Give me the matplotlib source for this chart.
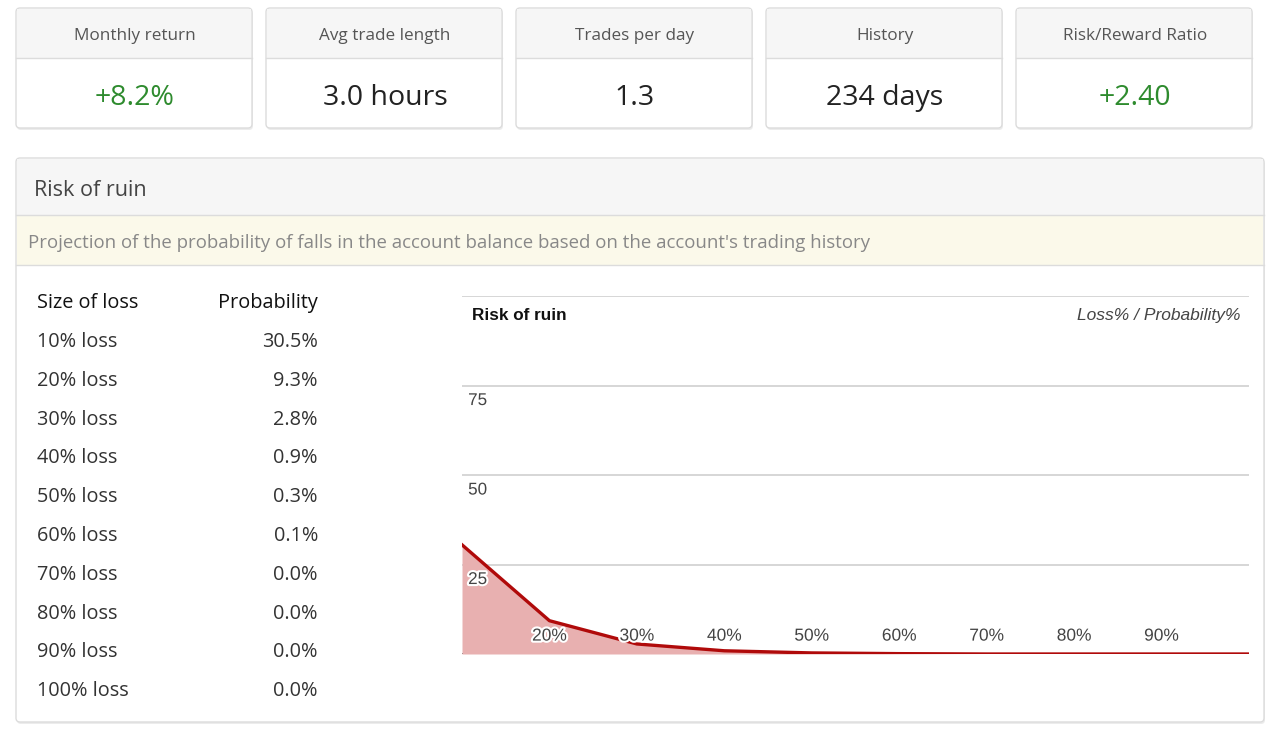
import matplotlib
matplotlib.use("Agg")
import matplotlib.pyplot as plt
from matplotlib.patches import FancyBboxPatch, Rectangle
import matplotlib.patheffects as pe

# ---- data ----
card_titles = ["Monthly return", "Avg trade length", "Trades per day", "History", "Risk/Reward Ratio"]
card_values = ["+8.2%", "3.0 hours", "1.3", "234 days", "+2.40"]
card_green = [True, False, False, False, True]

loss_labels = ["10% loss", "20% loss", "30% loss", "40% loss", "50% loss",
               "60% loss", "70% loss", "80% loss", "90% loss", "100% loss"]
prob_labels = ["30.5%", "9.3%", "2.8%", "0.9%", "0.3%", "0.1%", "0.0%", "0.0%", "0.0%", "0.0%"]
loss_pct = [10, 20, 30, 40, 50, 60, 70, 80, 90, 100]
prob_pct = [30.5, 9.3, 2.8, 0.9, 0.3, 0.1, 0.0, 0.0, 0.0, 0.0]
x_tick_vals = [20, 30, 40, 50, 60, 70, 80, 90]
y_tick_vals = [25, 50, 75]

W, H = 1280, 733
fig = plt.figure(figsize=(W / 100, H / 100), dpi=100)
fig.patch.set_facecolor("white")

page = fig.add_axes([0, 0, 1, 1])
page.set_xlim(0, W)
page.set_ylim(H, 0)
page.axis("off")

WEB = ["Open Sans", "DejaVu Sans"]
CH = ["Liberation Sans", "DejaVu Sans"]

def box(x0, y0, x1, y1, fc, ec="#dcdcdc", r=4, z=1, shadow=True):
    if shadow:
        page.add_patch(FancyBboxPatch((x0 + 1, y0 + 2), x1 - x0, y1 - y0,
                                      boxstyle=f"round,pad=0,rounding_size={r}",
                                      fc="#ececec", ec="none", zorder=z - 0.5))
    page.add_patch(FancyBboxPatch((x0, y0), x1 - x0, y1 - y0,
                                  boxstyle=f"round,pad=0,rounding_size={r}",
                                  fc=fc, ec=ec, lw=1, zorder=z))

# ---- stat cards ----
card_x = [16, 266, 516, 766, 1016]
card_w = 236
for i, x0 in enumerate(card_x):
    box(x0, 8, x0 + card_w, 128, "white")
    page.add_patch(Rectangle((x0 + 1, 9), card_w - 2, 49, fc="#f6f6f6", ec="none", zorder=1.2))
    page.plot([x0, x0 + card_w], [58, 58], color="#dcdcdc", lw=1, zorder=1.3)
    cx = x0 + card_w / 2 + 1
    page.text(cx, 36, card_titles[i], ha="center", va="center", fontsize=12.3,
              color="#555555", family=WEB, zorder=2)
    page.text(cx, 98, card_values[i], ha="center", va="center", fontsize=20.5,
              color="#2e8b2e" if card_green[i] else "#222222", family=WEB, zorder=2)

# ---- main panel ----
box(16, 158, 1264, 722, "white")
page.add_patch(Rectangle((17, 159), 1246, 56, fc="#f6f6f6", ec="none", zorder=1.2))
page.add_patch(Rectangle((17, 215), 1246, 50, fc="#fbf9ea", ec="none", zorder=1.2))
page.plot([16, 1264], [215, 215], color="#dcdcdc", lw=1, zorder=1.3)
page.plot([16, 1264], [265, 265], color="#dcdcdc", lw=1, zorder=1.3)
page.text(34, 190, "Risk of ruin", ha="left", va="center", fontsize=15.5,
          color="#444444", family=WEB, zorder=2)
page.text(28, 243, "Projection of the probability of falls in the account balance based on the account's trading history",
          ha="left", va="center", fontsize=13.4, color="#888888", family=WEB, zorder=2)

# ---- table ----
page.text(37, 303, "Size of loss", ha="left", va="center", fontsize=14.3, color="#111111", family=WEB, zorder=2)
page.text(318, 303, "Probability", ha="right", va="center", fontsize=14.3, color="#111111", family=WEB, zorder=2)
for i, (l, p) in enumerate(zip(loss_labels, prob_labels)):
    y = 342 + i * 38.8
    page.text(37, y, l, ha="left", va="center", fontsize=14.3, color="#333333", family=WEB, zorder=2)
    page.text(318, y, p, ha="right", va="center", fontsize=14.3, color="#333333", family=WEB, zorder=2)

# ---- chart ----
L, R, T, B = 462, 1249, 296, 654
ax = fig.add_axes([L / W, 1 - B / H, (R - L) / W, (B - T) / H])
ax.set_xlim(10, 100)
ax.set_ylim(0, 100)
ax.patch.set_alpha(0)
for s in ax.spines.values():
    s.set_visible(False)
ax.set_xticks([])
ax.set_yticks([])
for v in y_tick_vals + [100]:
    ax.axhline(v, color="#d0d0d0", lw=1.2, zorder=1)
ax.axhline(0, color="#555555", lw=1.2, zorder=1)

ax.fill_between(loss_pct, prob_pct, 0, color="#e8b0b0", lw=0, zorder=2)
ax.plot(loss_pct, prob_pct, color="#b00a0a", lw=2.4, zorder=3, solid_joinstyle="round")

halo = [pe.withStroke(linewidth=3, foreground="white")]
for v in y_tick_vals:
    ax.text(10.7, v - 4.2, str(v), ha="left", va="center", fontsize=12.3,
            color="#444444", family=CH, zorder=4, path_effects=halo)
for v in x_tick_vals:
    ax.text(v, 5, f"{v}%", ha="center", va="center", fontsize=12.5,
            color="#444444", family=CH, zorder=4, path_effects=halo)

ax.text(0.013, 0.945, "Risk of ruin", transform=ax.transAxes, ha="left", va="center",
        fontsize=12.3, fontweight="bold", color="#111111", family=CH, zorder=4)
ax.text(0.989, 0.945, "Loss% / Probability%", transform=ax.transAxes, ha="right", va="center",
        fontsize=12.5, fontstyle="italic", color="#444444", family=CH, zorder=4)

fig.savefig("out.png", dpi=100, facecolor=fig.get_facecolor())
